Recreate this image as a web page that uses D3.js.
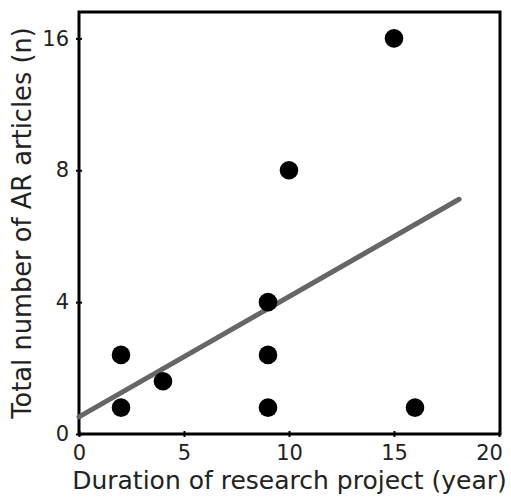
<!DOCTYPE html>
<html>
<head>
<meta charset="utf-8">
<script src="https://cdn.jsdelivr.net/npm/d3@7"></script>
<style>
  html, body { margin: 0; padding: 0; background: #fff; }
  svg { display: block; }
  text { font-family: "DejaVu Sans", Verdana, sans-serif; fill: #222; }
</style>
</head>
<body>
<svg id="chart" width="511" height="498"></svg>
<script>
// ---- data ----
const durationYears = [2, 2, 4, 9, 9, 9, 10, 15, 16];
const articleCounts = [0.8, 2.4, 1.6, 0.8, 2.4, 4, 8, 16, 0.8];
const xTickValues = [0, 5, 10, 15, 20];
const yTickValues = [0, 4, 8, 16];
const trendX = [0, 18.1];
const trendY = [0.52, 7.12];
const xTitle = "Duration of research project (year)";
const yTitle = "Total number of AR articles (n)";

// ---- layout ----
const margin = { left: 79, top: 12, right: 11, bottom: 64 };
const W = 511, H = 498;
const pw = W - margin.left - margin.right;   // 421
const ph = H - margin.top - margin.bottom;   // 422
const step = ph / 3.2;

const svg = d3.select("#chart");
const g = svg.append("g").attr("transform", `translate(${margin.left},${margin.top})`);

const x = d3.scaleLinear().domain([0, 20]).range([0, pw - 1]);
const y = d3.scaleLinear()
  .domain([0, 4, 8, 16, 17.6])
  .range([ph, ph - step, ph - 2 * step, ph - 3 * step, 0]);

// frame
g.append("rect")
  .attr("x", 0).attr("y", 0)
  .attr("width", pw).attr("height", ph)
  .attr("fill", "none").attr("stroke", "#000").attr("stroke-width", 3);

// x axis
const xAxis = g.append("g")
  .attr("transform", `translate(0,${ph})`)
  .call(d3.axisBottom(x).tickValues(xTickValues).tickSize(3).tickPadding(8).tickFormat(d3.format("d")));
xAxis.select(".domain").remove();
xAxis.selectAll(".tick line").attr("y1", -3).attr("y2", 3).attr("stroke", "#000").attr("stroke-width", 2);
xAxis.selectAll(".tick text").attr("font-size", 21).attr("font-family", "DejaVu Sans, Verdana, sans-serif").attr("fill", "#222");
// keep the last label inside the picture, as in the reference
xAxis.selectAll(".tick text").filter(d => d === 20).attr("dx", -10);

// y axis
const yAxis = g.append("g")
  .call(d3.axisLeft(y).tickValues(yTickValues).tickSize(3).tickPadding(7).tickFormat(d3.format("d")));
yAxis.select(".domain").remove();
yAxis.selectAll(".tick line").attr("x1", 3).attr("x2", -3).attr("stroke", "#000").attr("stroke-width", 2);
yAxis.selectAll(".tick text").attr("font-size", 21).attr("font-family", "DejaVu Sans, Verdana, sans-serif").attr("fill", "#222");

// trend line
const line = d3.line().x(d => x(d[0])).y(d => y(d[1]));
g.append("path")
  .datum(d3.zip(trendX, trendY))
  .attr("d", line)
  .attr("fill", "none")
  .attr("stroke", "#666")
  .attr("stroke-width", 5)
  .attr("stroke-linecap", "round");

// points
g.selectAll("circle.pt")
  .data(d3.zip(durationYears, articleCounts))
  .enter().append("circle")
  .attr("class", "pt")
  .attr("cx", d => x(d[0]))
  .attr("cy", d => y(d[1]))
  .attr("r", 9.3)
  .attr("fill", "#000");

// axis titles
svg.append("text")
  .attr("x", margin.left + pw / 2)
  .attr("y", 489)
  .attr("text-anchor", "middle")
  .attr("font-size", 25)
  .text(xTitle);

svg.append("text")
  .attr("transform", `translate(31,${margin.top + ph / 2}) rotate(-90)`)
  .attr("text-anchor", "middle")
  .attr("font-size", 25.7)
  .text(yTitle);
</script>
</body>
</html>
